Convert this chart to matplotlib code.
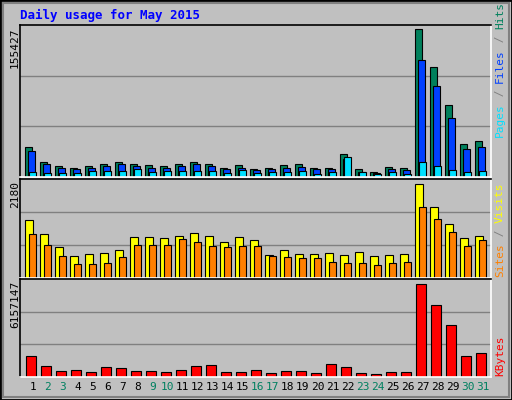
import numpy as np
import matplotlib.pyplot as plt
from matplotlib.patches import Rectangle

# values
days = list(range(1, 32))
weekend = {2, 3, 9, 10, 16, 17, 23, 24, 30, 31}
hits = [31300, 16200, 11250, 9850, 11250, 13360, 15470, 14060, 12300, 11250,
        13360, 15470, 14060, 9850, 12300, 8090, 9140, 12300, 13360, 9140,
        9850, 23900, 8790, 4920, 10200, 9140, 155427, 115700, 75200, 34460, 37620]
files = [27070, 13360, 9850, 8790, 9140, 11250, 13360, 11250, 9850, 9140,
         11250, 13360, 11250, 8090, 9850, 7030, 8090, 9850, 10200, 8090,
         8790, 18630, 5630, 4220, 8090, 7030, 122700, 95280, 61880, 29180, 31290]
pages = [5630, 4570, 4570, 4570, 6680, 6680, 6680, 8790, 5630, 6680,
         6680, 6680, 6680, 4570, 7740, 4570, 5630, 5630, 6680, 3520,
         5630, 20740, 5630, 3520, 5630, 3520, 15470, 11250, 7740, 5630, 6680]
visits = [1335, 1027, 719, 506, 553, 577, 648, 956, 956, 932,
          980, 1051, 980, 837, 956, 885, 529, 648, 553, 553,
          577, 529, 600, 506, 529, 553, 2180, 1643, 1240, 932, 980]
sites = [1027, 766, 506, 316, 316, 340, 482, 766, 766, 766,
         909, 837, 743, 719, 743, 743, 506, 482, 458, 458,
         363, 340, 340, 292, 340, 363, 1643, 1359, 1074, 743, 885]
kbytes = [1370700, 696600, 427000, 494400, 359500, 629200, 561800, 427000, 427000, 359500,
          494400, 696600, 764000, 359500, 359500, 494400, 292100, 427000, 427000, 292100,
          831400, 629200, 292100, 224700, 359500, 359500, 6157147, 4741400, 3460500, 1370700, 1573000]

W, H = 512, 400
BG = "#c0c0c0"
mono = "DejaVu Sans Mono"

fig = plt.figure(figsize=(W / 100, H / 100), dpi=100, facecolor=BG)

# frame
fig.add_artist(Rectangle((0, 0), 1, 1, transform=fig.transFigure, fill=False,
                         ec="black", lw=2))
fig.add_artist(Rectangle((3 / W, 3 / H), 1 - 6 / W, 1 - 6 / H, transform=fig.transFigure,
                         fill=False, ec="#808080", lw=1.5))

fig.text(20 / W, 1 - 15 / H, "Daily usage for May 2015", color="#0000ff",
         fontsize=9, fontweight="bold", family=mono, va="center")


def panel(top, bottom):
    ax = fig.add_axes([20 / W, 1 - bottom / H, (491 - 20) / W, (bottom - top) / H])
    ax.set_facecolor(BG)
    ax.set_xlim(-1 / 3, 31.07)
    ax.set_xticks([])
    ax.set_yticks([])
    for s in ("left", "top"):
        ax.spines[s].set_color("black")
    for s in ("right", "bottom"):
        ax.spines[s].set_color("white")
    for s in ax.spines.values():
        s.set_linewidth(1.2)
    return ax


x = np.arange(31)
kw = dict(align="edge", edgecolor="black", linewidth=0.8)

# hits / files / pages
ax1 = panel(25, 177)
top1 = 159800
ax1.set_ylim(0, top1)
for g in (top1 / 3, 2 * top1 / 3):
    ax1.axhline(g, color="#808080", lw=1, zorder=0)
ax1.bar(x, hits, width=0.47, color="#00805c", **kw)
ax1.bar(x + 0.18, files, width=0.47, color="#0040ff", **kw)
ax1.bar(x + 0.29, pages, width=0.47, color="#00e0ff", **kw)

# visits / sites
ax2 = panel(179, 278)
top2 = 2291
ax2.set_ylim(0, top2)
for g in (top2 / 3, 2 * top2 / 3):
    ax2.axhline(g, color="#808080", lw=1, zorder=0)
ax2.bar(x, visits, width=0.53, color="#ffff00", **kw)
ax2.bar(x + 0.27, sites, width=0.47, color="#ff8000", **kw)

# kbytes
ax3 = panel(279, 377)
top3 = 6470000
ax3.set_ylim(0, top3)
for g in (top3 / 3, 2 * top3 / 3):
    ax3.axhline(g, color="#808080", lw=1, zorder=0)
ax3.bar(x + 0.07, kbytes, width=0.67, color="#ff0000", **kw)

# left scale labels
for ax, val, y in ((ax1, hits, 27), (ax2, visits, 181), (ax3, kbytes, 281)):
    fig.text(15 / W, 1 - y / H, str(max(val)), rotation=90, fontsize=8,
             family=mono, ha="center", va="top", color="black")


def vstack(ybottom, parts):
    # right-hand legend, stacked bottom to top
    r = fig.canvas.get_renderer()
    yy = ybottom
    for txt, col in parts:
        t = fig.text(500 / W, 1 - yy / H, txt, rotation=90, color=col, fontsize=8,
                     family=mono, ha="center", va="bottom")
        bb = t.get_window_extent(renderer=r)
        yy -= bb.height


vstack(137, [("Pages", "#00e0ff"), (" / ", "#808080"), ("Files", "#0040ff"),
             (" / ", "#808080"), ("Hits", "#00805c")])
vstack(277, [("Sites", "#ff8000"), (" / ", "#808080"), ("Visits", "#ffff00")])
vstack(376, [("KBytes", "#ff0000")])

# day labels
for d in days:
    col = "#008060" if d in weekend else "black"
    ax3.text(d - 1 + 0.53, -0.1, str(d), transform=ax3.get_xaxis_transform(),
             ha="center", va="center", fontsize=8, family=mono, color=col)

fig.savefig("out.png", dpi=100, facecolor=BG)
